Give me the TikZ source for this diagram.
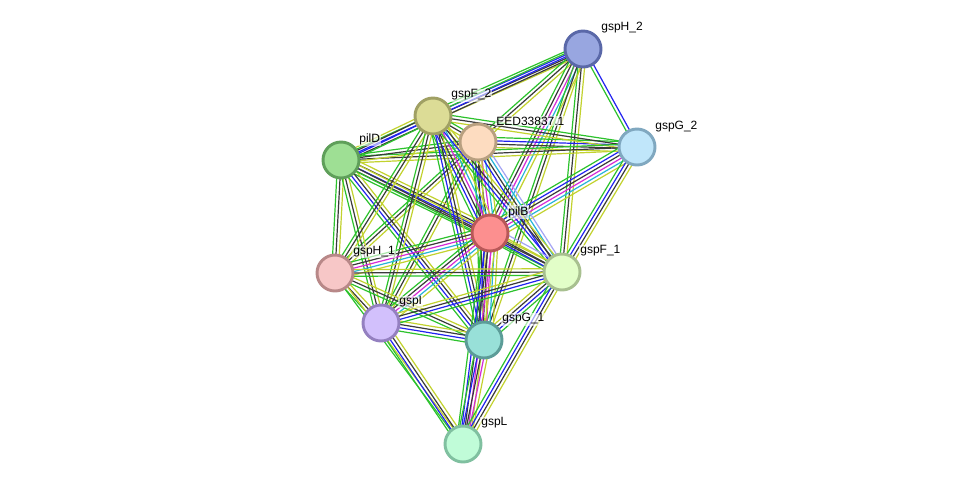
\documentclass[tikz,border=0pt]{standalone}
\usepackage{fontspec}
\setmainfont{Liberation Sans}
\usetikzlibrary{calc}
\definecolor{cNeigh}{HTML}{2CC22C}
\definecolor{cCooc}{HTML}{2222F0}
\definecolor{cCoexp}{HTML}{3A3A3A}
\definecolor{cExper}{HTML}{D62AD6}
\definecolor{cDbase}{HTML}{26B4D8}
\definecolor{cText}{HTML}{C2D22E}
\definecolor{cHomol}{HTML}{A4A4F4}
\pgfdeclarelayer{edges}
\pgfsetlayers{edges,main}
% one bundle of parallel evidence lines between two proteins
\newcommand\strand[3]{%
  \xdef\nlines{0}%
  \foreach \c in {#3}{\pgfmathtruncatemacro\tmp{\nlines+1}\xdef\nlines{\tmp}}%
  \foreach \c [count=\i] in {#3}{%
    \pgfmathsetmacro\off{(\i-(\nlines+1)/2)*2.5}%
    \draw[link, \c] ($(#1)!\off pt!90:(#2)$) -- ($(#2)!\off pt!-90:(#1)$);
  }}

\begin{document}
\begin{tikzpicture}[x=0.75pt, y=-0.75pt,
  prot/.style={circle, minimum size=27pt, inner sep=0pt, line width=2.2pt},
  tag/.style={anchor=west, font=\fontsize{9}{10}\selectfont, inner sep=0.8pt,
    fill=white, fill opacity=0.6, text opacity=1},
  link/.style={line width=0.9pt}]
\useasboundingbox (0,0) rectangle (976,490);

\node[prot, fill={rgb,255:red,152;green,166;blue,224}, draw={rgb,255:red,90;green,104;blue,168}] (gspH2) at (583,49) {};
\node[prot, fill={rgb,255:red,220;green,220;blue,150}, draw={rgb,255:red,160;green,160;blue,100}] (gspF2) at (433,116) {};
\node[prot, fill={rgb,255:red,253;green,220;blue,192}, draw={rgb,255:red,184;green,160;blue,128}] (eed) at (478,142) {};
\node[prot, fill={rgb,255:red,192;green,230;blue,250}, draw={rgb,255:red,128;green,168;blue,192}] (gspG2) at (637,147) {};
\node[prot, fill={rgb,255:red,158;green,223;blue,148}, draw={rgb,255:red,95;green,159;blue,90}] (pilD) at (341,160) {};
\node[prot, fill={rgb,255:red,252;green,143;blue,143}, draw={rgb,255:red,184;green,88;blue,88}] (pilB) at (490,233) {};
\node[prot, fill={rgb,255:red,247;green,199;blue,199}, draw={rgb,255:red,184;green,136;blue,136}] (gspH1) at (335,273) {};
\node[prot, fill={rgb,255:red,226;green,254;blue,200}, draw={rgb,255:red,168;green,192;blue,144}] (gspF1) at (562,272) {};
\node[prot, fill={rgb,255:red,210;green,192;blue,252}, draw={rgb,255:red,148;green,128;blue,192}] (gspI) at (381,323) {};
\node[prot, fill={rgb,255:red,152;green,224;blue,216}, draw={rgb,255:red,92;green,156;blue,152}] (gspG1) at (484,340) {};
\node[prot, fill={rgb,255:red,192;green,252;blue,216}, draw={rgb,255:red,128;green,192;blue,160}] (gspL) at (463,444) {};

\node[tag] (gspH2-t) at ($(gspH2)+(17,-21)$) {gspH\_2};
\node[tag] (gspF2-t) at ($(gspF2)+(17,-21)$) {gspF\_2};
\node[tag] (eed-t) at ($(eed)+(17,-21)$) {EED33837.1};
\node[tag] (gspG2-t) at ($(gspG2)+(17,-20)$) {gspG\_2};
\node[tag] (pilD-t) at ($(pilD)+(17,-21)$) {pilD};
\node[tag] (pilB-t) at ($(pilB)+(17,-21)$) {pilB};
\node[tag] (gspH1-t) at ($(gspH1)+(17,-21)$) {gspH\_1};
\node[tag] (gspF1-t) at ($(gspF1)+(17,-21)$) {gspF\_1};
\node[tag] (gspI-t) at ($(gspI)+(17,-21)$) {gspI};
\node[tag] (gspG1-t) at ($(gspG1)+(17,-21)$) {gspG\_1};
\node[tag] (gspL-t) at ($(gspL)+(17,-21)$) {gspL};

\begin{pgfonlayer}{edges}
\fill[white] (0,0) rectangle (976,490);
% gspH_2
\strand{gspH2}{gspF2}{cNeigh,cCooc,cCoexp,cText}
\strand{gspH2}{pilD}{cNeigh,cCooc,cCoexp}
\strand{gspH2}{eed}{cNeigh,cCoexp,cText}
\strand{gspH2}{gspG2}{cNeigh,cCooc}
\strand{gspH2}{pilB}{cNeigh,cCoexp,cExper,cDbase,cText}
\strand{gspH2}{gspF1}{cNeigh,cCoexp,cText}
\strand{gspH2}{gspG1}{cNeigh,cCoexp,cText}
% gspG_2
\strand{gspG2}{eed}{cNeigh,cCooc,cCoexp,cText}
\strand{gspG2}{gspF2}{cNeigh,cCoexp,cText}
\strand{gspG2}{pilD}{cNeigh,cCoexp,cText}
\strand{gspG2}{pilB}{cNeigh,cCooc,cCoexp,cExper,cDbase,cText}
\strand{gspG2}{gspF1}{cNeigh,cCooc,cCoexp,cText}
% EED33837.1
\strand{eed}{gspF2}{cNeigh,cCoexp,cText}
\strand{eed}{pilD}{cNeigh,cCoexp,cText}
\strand{eed}{pilB}{cNeigh,cCooc,cCoexp,cExper,cDbase,cText}
\strand{eed}{gspF1}{cCooc,cCoexp,cDbase,cHomol}
\strand{eed}{gspG1}{cNeigh,cCoexp,cText}
\strand{eed}{gspI}{cNeigh,cCoexp,cText}
\strand{eed}{gspH1}{cNeigh,cCoexp,cText}
% pilD
\strand{pilD}{gspF2}{cNeigh,cCooc,cCoexp,cText}
\strand{pilD}{pilB}{cNeigh,cCoexp,cCooc,cCoexp,cText}
\strand{pilD}{gspH1}{cNeigh,cCoexp,cText}
\strand{pilD}{gspI}{cNeigh,cCoexp,cText}
\strand{pilD}{gspG1}{cNeigh,cCooc,cCoexp,cText}
\strand{pilD}{gspF1}{cNeigh,cCoexp,cText}
% gspF_2
\strand{gspF2}{pilB}{cNeigh,cCooc,cCoexp,cExper,cDbase,cText}
\strand{gspF2}{gspH1}{cNeigh,cCoexp,cText}
\strand{gspF2}{gspI}{cNeigh,cCoexp,cText}
\strand{gspF2}{gspG1}{cNeigh,cCooc,cCoexp,cText}
\strand{gspF2}{gspF1}{cNeigh,cCooc,cCoexp,cText}
% pilB
\strand{pilB}{gspH1}{cNeigh,cCoexp,cExper,cDbase,cText}
\strand{pilB}{gspI}{cNeigh,cCoexp,cExper,cDbase,cText}
\strand{pilB}{gspG1}{cNeigh,cCooc,cCoexp,cExper,cDbase,cText}
\strand{pilB}{gspF1}{cNeigh,cCooc,cCoexp,cText,cHomol}
\strand{pilB}{gspL}{cNeigh,cCooc,cCoexp,cExper,cText}
% gspH_1
\strand{gspH1}{gspI}{cNeigh,cCoexp,cText}
\strand{gspH1}{gspG1}{cNeigh,cCoexp,cText}
\strand{gspH1}{gspF1}{cNeigh,cCoexp,cText}
\strand{gspH1}{gspL}{cNeigh,cText}
% gspI
\strand{gspI}{gspG1}{cNeigh,cCooc,cCoexp,cText}
\strand{gspI}{gspF1}{cNeigh,cCooc,cCoexp,cText}
\strand{gspI}{gspL}{cNeigh,cCooc,cCoexp,cText}
% gspG_1, gspF_1
\strand{gspG1}{gspF1}{cNeigh,cCooc,cCoexp,cText}
\strand{gspG1}{gspL}{cNeigh,cCooc,cCoexp,cExper,cText}
\strand{gspF1}{gspL}{cNeigh,cCooc,cCoexp,cText}
\end{pgfonlayer}
\end{tikzpicture}
\end{document}
